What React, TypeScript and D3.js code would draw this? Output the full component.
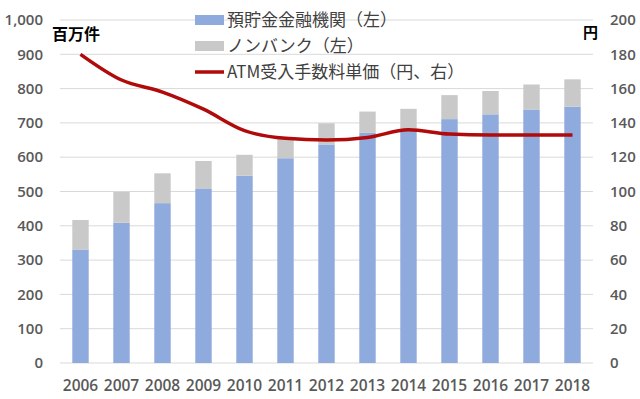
import * as d3 from 'd3';

// data
const years = ['2006', '2007', '2008', '2009', '2010', '2011', '2012', '2013', '2014', '2015', '2016', '2017', '2018'];
const banks = [331, 409, 466, 509, 546, 597, 637, 671, 680, 711, 725, 739, 747];
const nonBanks = [86, 90, 87, 80, 61, 58, 62, 62, 61, 70, 68, 73, 80];
const fee = [180, 165, 158, 148, 135.5, 131, 130, 131.5, 136, 133.5, 133, 133, 133];
const leftTicks = [0, 100, 200, 300, 400, 500, 600, 700, 800, 900, 1000];
const rightTicks = [0, 20, 40, 60, 80, 100, 120, 140, 160, 180, 200];
const legendLabels = ['預貯金金融機関（左）', 'ノンバンク（左）', 'ATM受入手数料単価（円、右）'];

const W = 640;
const H = 399;
const margin = { top: 20, right: 47, bottom: 36, left: 60 };

const BLUE = '#8FAADC';
const GRAY = '#C9C9C9';
const RED = '#B00A0A';
const TXT = '#595959';
const FONT = '"Open Sans", "Noto Sans CJK JP", sans-serif';
const CJK = '"Noto Sans CJK JP", sans-serif';

export default function App() {
  const x = d3.scaleBand()
    .domain(years)
    .range([margin.left, W - margin.right])
    .paddingInner(0.6)
    .paddingOuter(0.3);

  const yL = d3.scaleLinear().domain([0, 1000]).range([H - margin.bottom, margin.top]);
  const yR = d3.scaleLinear().domain([0, 200]).range([H - margin.bottom, margin.top]);

  const line = d3.line<number>()
    .x((_, i) => x(years[i])! + x.bandwidth() / 2)
    .y(d => yR(d))
    .curve(d3.curveMonotoneX);

  const legendX = 195;
  const legendY = [20, 46, 72];

  return (
    <svg width={W} height={H} style={{ position: 'absolute', left: 0, top: 0, background: '#fff' }}>
      {/* gridlines */}
      {leftTicks.map(t => (
        <line key={t} x1={margin.left} x2={W - margin.right} y1={yL(t)} y2={yL(t)} stroke="#D9D9D9" strokeWidth={1} />
      ))}

      {/* stacked bars */}
      {years.map((yr, i) => (
        <g key={yr}>
          <rect x={x(yr)} width={x.bandwidth()} y={yL(banks[i])} height={yL(0) - yL(banks[i])} fill={BLUE} />
          <rect x={x(yr)} width={x.bandwidth()} y={yL(banks[i] + nonBanks[i])} height={yL(banks[i]) - yL(banks[i] + nonBanks[i])} fill={GRAY} />
        </g>
      ))}

      {/* fee line */}
      <path d={line(fee)!} fill="none" stroke={RED} strokeWidth={3.5} strokeLinejoin="round" />

      {/* left axis */}
      {leftTicks.map(t => (
        <text key={t} x={43} y={yL(t)} dy="0.35em" textAnchor="end" fontFamily={FONT} fontWeight={600} fontSize={15} fill={TXT}>
          {d3.format(',')(t)}
        </text>
      ))}

      {/* right axis */}
      {rightTicks.map(t => (
        <text key={t} x={610} y={yR(t)} dy="0.35em" textAnchor="start" fontFamily={FONT} fontWeight={600} fontSize={15} fill={TXT}>
          {t}
        </text>
      ))}

      {/* x axis */}
      {years.map(yr => (
        <text key={yr} x={x(yr)! + x.bandwidth() / 2} y={386} dy="0.35em" textAnchor="middle" fontFamily={FONT} fontWeight={600} fontSize={15.5} fill={TXT}>
          {yr}
        </text>
      ))}

      {/* unit labels */}
      <text x={52} y={40} fontFamily={CJK} fontWeight={700} fontSize={16} fill="#000">百万件</text>
      <text x={583} y={38} fontFamily={CJK} fontWeight={700} fontSize={15} fill="#000">円</text>

      {/* legend */}
      <rect x={legendX} y={legendY[0] - 5} width={29} height={10} fill={BLUE} />
      <rect x={legendX} y={legendY[1] - 5} width={29} height={10} fill={GRAY} />
      <line x1={legendX} x2={legendX + 29} y1={legendY[2]} y2={legendY[2]} stroke={RED} strokeWidth={3.5} />
      {legendLabels.map((l, i) => (
        <text key={l} x={legendX + 32} y={legendY[i]} dy="0.35em" fontFamily={CJK} fontSize={17} fill="#404040">
          {l}
        </text>
      ))}
    </svg>
  );
}
